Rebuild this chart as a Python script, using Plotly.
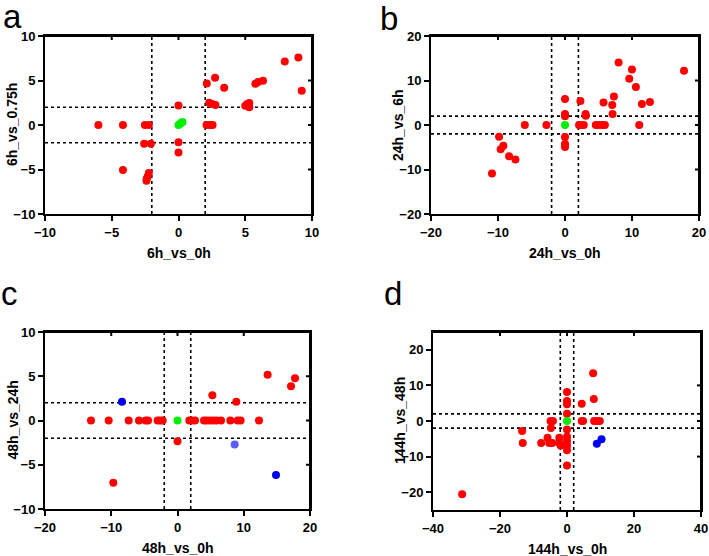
import plotly.graph_objects as go

W, H = 709, 556
THRESH = 2

# ---------------- data ----------------
a_red_x = [-6.0, -4.16, -4.16, -2.52, -2.22, -2.57, -2.07, -2.22, -2.3, -2.37, -2.4, 0, 0, 0,
           2.12, 2.74, 3.42, 2.3, 2.52, 2.77, 2.1, 2.35, 2.55, 5.0, 5.14, 5.3, 5.3, 5.76, 5.96,
           6.33, 7.96, 8.98, 9.23]
a_red_y = [0, 0, -5.05, 0, 0, -2.1, -2.1, -5.4, -5.75, -6.0, -6.25, 2.2, -1.95, -3.1,
           4.67, 5.3, 4.19, 2.5, 2.36, 2.24, 0, 0, 0, 2.17, 2.36, 2.47, 2.0, 4.64, 4.82,
           4.97, 7.14, 7.59, 3.85]
a_green_x = [0, 0.1, 0.2, 0.3]
a_green_y = [0, 0.1, 0.25, 0.35]

b_red_x = [0, 0, 0, 0, 0, 0, -6.0, -2.77, -9.84, -9.6, -9.2, -8.35, -7.4, -10.9,
           2.3, 2.1, 2.3, 2.8, 3.07, 3.1, 4.6, 5.05, 5.55, 5.95, 5.75, 7.1, 7.05, 7.3,
           8.0, 9.59, 9.99, 10.58, 11.08, 11.48, 12.68, 17.76]
b_red_y = [5.83, 2.47, 1.94, -2.7, -4.26, -4.93, 0, 0, -2.62, -5.46, -4.64, -7.0, -7.78, -10.9,
           5.4, 0, 0, 0, 2.47, 2.1, 0, 0, 0, 0, 5.08, 2.47, 4.49, 6.43,
           14.06, 10.39, 12.49, 8.52, 0, 4.71, 5.16, 12.19]
b_green_x = [0]
b_green_y = [0]

c_red_x = [-13.06, -10.39, -9.69, -7.37, -5.81, -4.8, -4.45, -3.0, -2.6, -2.24, 0,
           1.79, 2.14, 2.64, 4.0, 4.4, 4.9, 5.4, 5.9, 6.57, 5.26, 7.97, 8.88, 9.08, 9.53,
           12.3, 13.6, 17.13, 17.74]
c_red_y = [0, 0, -7.03, 0, 0, 0, 0, 0, 0, 0, -2.34,
           0, 0, 0, 0, 0, 0, 0, 0, 0, 2.84, 0, 2.12, 0, 0,
           0, 5.18, 3.86, 4.76]
c_green_x = [0]
c_green_y = [0]
c_blue_x = [-8.38, 14.87]
c_blue_y = [2.12, -6.16]
c_lblue_x = [8.63]
c_lblue_y = [-2.72]

d_red_x = [-31.3, -13.4, -13.2, -7.7, -5.8, -5.3, -4.9, -4.2, -4.8, -4.4, -2.3, -2.3, -1.9,
           0, 0, 0, 0, 0, 0, 0, 0, 0, 0, 4.4, 4.4, 4.8, 7.8, 8.0, 8.1, 8.9, 9.8]
d_red_y = [-20.6, -2.8, -6.2, -6.2, -4.7, -6.2, 0, 0, -2.0, -6.2, -4.7, -6.2, -6.9,
           8.15, 5.6, 4.7, 2.06, -2.4, -4.4, -5.6, -6.9, -8.2, -12.5, 4.87, 0, 0, 13.4, 6.2, 0, 0, 0]
d_green_x = [0]
d_green_y = [0]
d_blue_x = [8.9, 10.3]
d_blue_y = [-6.4, -5.1]

panels = [
    dict(name="a", xlabel="6h_vs_0h", ylabel="6h_vs_0.75h",
         xr=[-10, 10], yr=[-10, 10], xt=[-10, -5, 0, 5, 10], yt=[-10, -5, 0, 5, 10],
         box=(45, 312, 36, 214),
         series=[(a_red_x, a_red_y, "#ff0000"), (a_green_x, a_green_y, "#00ee00")]),
    dict(name="b", xlabel="24h_vs_0h", ylabel="24h_vs_6h",
         xr=[-20, 20], yr=[-20, 20], xt=[-20, -10, 0, 10, 20], yt=[-20, -10, 0, 10, 20],
         box=(431, 699, 36, 214),
         series=[(b_red_x, b_red_y, "#ff0000"), (b_green_x, b_green_y, "#00ee00")]),
    dict(name="c", xlabel="48h_vs_0h", ylabel="48h_vs_24h",
         xr=[-20, 20], yr=[-10, 10], xt=[-20, -10, 0, 10, 20], yt=[-10, -5, 0, 5, 10],
         box=(45, 310, 332, 509),
         series=[(c_red_x, c_red_y, "#ff0000"), (c_green_x, c_green_y, "#00ee00"),
                 (c_blue_x, c_blue_y, "#0000ee"), (c_lblue_x, c_lblue_y, "#5a5aff")]),
    dict(name="d", xlabel="144h_vs_0h", ylabel="144h_vs_48h",
         xr=[-40, 40], yr=[-25, 25], xt=[-40, -20, 0, 20, 40], yt=[-20, -10, 0, 10, 20],
         box=(433, 701, 332, 510),
         series=[(d_red_x, d_red_y, "#ff0000"), (d_green_x, d_green_y, "#00ee00"),
                 (d_blue_x, d_blue_y, "#0000ee")]),
]

FONT = "Liberation Sans, Arial, sans-serif"
TICK_IN = 4  # px, inward ticks on the frame's top/right edges
fig = go.Figure()
shapes = []
annotations = []
layout = {}

for i, p in enumerate(panels):
    k = i + 1
    xa = "x" if k == 1 else f"x{k}"
    ya = "y" if k == 1 else f"y{k}"
    xkey = "xaxis" if k == 1 else f"xaxis{k}"
    ykey = "yaxis" if k == 1 else f"yaxis{k}"
    L, R, T, B = p["box"]
    xd = [L / W, R / W]
    yd = [1 - B / H, 1 - T / H]
    common = dict(showgrid=False, zeroline=False, showline=True, linecolor="black", linewidth=2,
                  mirror=True, ticks="outside", ticklen=5, tickwidth=2, tickcolor="black",
                  tickfont=dict(family=FONT, size=13, color="black", weight="bold"),
                  fixedrange=True, automargin=False)
    layout[xkey] = dict(common, domain=xd, range=p["xr"], tickvals=p["xt"], anchor=ya)
    layout[ykey] = dict(common, domain=yd, range=p["yr"], tickvals=p["yt"], anchor=xa)

    x0, x1 = p["xr"]
    y0, y1 = p["yr"]
    dy = TICK_IN / (B - T) * (y1 - y0)
    dx = TICK_IN / (R - L) * (x1 - x0)

    # dotted threshold lines
    for v in (-THRESH, THRESH):
        shapes.append(dict(type="line", xref=xa, yref=f"{ya} domain", x0=v, x1=v, y0=0, y1=1,
                           line=dict(color="black", width=1.6, dash="dot"), layer="below"))
        shapes.append(dict(type="line", xref=f"{xa} domain", yref=ya, x0=0, x1=1, y0=v, y1=v,
                           line=dict(color="black", width=1.6, dash="dot"), layer="below"))

    for sx, sy, col in p["series"]:
        fig.add_trace(go.Scatter(x=sx, y=sy, mode="markers", xaxis=xa, yaxis=ya,
                                 marker=dict(size=8, color=col, line=dict(width=0)),
                                 showlegend=False, hoverinfo="skip"))

    # frame (top / right edges) with short inward ticks, drawn from the axis ranges
    fx, fy = [x0, x1, x1], [y1, y1, y0]
    for v in p["xt"][1:-1]:
        fx += [None, v, v]
        fy += [None, y1, y1 - dy]
    for v in p["yt"][1:-1]:
        fx += [None, x1, x1 - dx]
        fy += [None, v, v]
    fig.add_trace(go.Scatter(x=fx, y=fy, mode="lines", xaxis=xa, yaxis=ya,
                             line=dict(color="black", width=2), cliponaxis=False,
                             connectgaps=False, showlegend=False, hoverinfo="skip"))

    # axis titles
    annotations.append(dict(text=p["xlabel"], xref="paper", yref="paper",
                            x=(L + R) / 2 / W, y=1 - (B + 39) / H, xanchor="center", yanchor="middle",
                            showarrow=False, font=dict(family=FONT, size=14, color="black", weight="bold")))
    annotations.append(dict(text=p["ylabel"], xref="paper", yref="paper",
                            x=(L - 33) / W, y=1 - (T + B) / 2 / H, xanchor="center", yanchor="middle",
                            textangle=-90, showarrow=False,
                            font=dict(family=FONT, size=14, color="black", weight="bold")))

# panel letters
letter_pos = [("a", 12, 16), ("b", 389, 18), ("c", 9, 293), ("d", 393, 293)]
for t, px, py in letter_pos:
    annotations.append(dict(text=t, xref="paper", yref="paper", x=px / W, y=1 - py / H,
                            xanchor="center", yanchor="middle", showarrow=False,
                            font=dict(family=FONT, size=33, color="black")))

fig.update_layout(**layout)
fig.update_layout(width=W, height=H, margin=dict(l=0, r=0, t=0, b=0),
                  paper_bgcolor="white", plot_bgcolor="white",
                  shapes=shapes, annotations=annotations, showlegend=False)

fig.write_html("out.html", config={"displayModeBar": False},
               post_script="document.body.style.margin='0px';document.body.style.overflow='hidden';")
